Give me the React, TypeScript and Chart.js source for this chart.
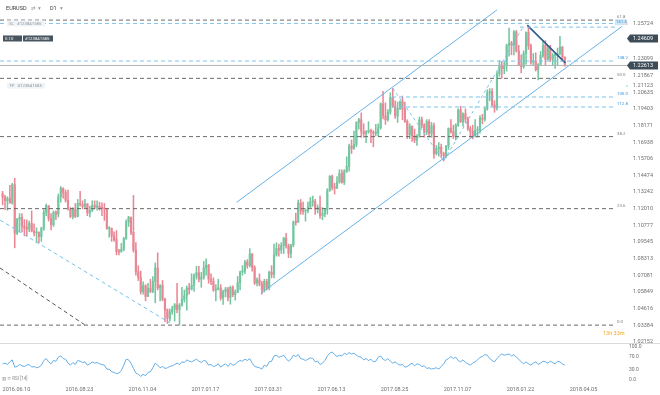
import React, { useEffect, useRef } from "react";
import { Chart, registerables } from "chart.js";

Chart.register(...registerables);

// ---------- data (2-day candles, EURUSD D1) ----------
const firstOpen = 1.1313;
const closes = [
  1.1287, 1.1260, 1.1277, 1.1245, 1.1380, 1.1020, 1.1124, 1.1137, 1.1073, 1.1056, 1.1052, 1.1092, 1.1035, 1.1022, 1.1025, 1.0995, 1.1057, 1.1174, 1.1224, 1.1128, 1.1083, 1.1176, 1.1161, 1.1290, 1.1353, 1.1321,
  1.1264, 1.1198, 1.1145, 1.1196, 1.1144, 1.1240, 1.1233, 1.1219, 1.1237, 1.1170, 1.1188, 1.1226, 1.1213, 1.1220, 1.1206, 1.1204, 1.1200, 1.1053, 1.1055, 1.1000, 1.0974, 1.0884, 1.0882, 1.0901, 1.0982, 1.1101,
  1.1139, 1.1027, 1.0895, 1.0734, 1.0692, 1.0588, 1.0631, 1.0552, 1.0613, 1.0588, 1.0664, 1.0763, 1.0615, 1.0634, 1.0531, 1.0453, 1.0390, 1.0438, 1.0458, 1.0490, 1.0456, 1.0488, 1.0531, 1.0556, 1.0614, 1.0606,
  1.0633, 1.0703, 1.0728, 1.0679, 1.0694, 1.0764, 1.0783, 1.0680, 1.0664, 1.0599, 1.0603, 1.0615, 1.0541, 1.0588, 1.0607, 1.0545, 1.0620, 1.0566, 1.0582, 1.0655, 1.0734, 1.0739, 1.0806, 1.0781, 1.0867, 1.0767,
  1.0652, 1.0676, 1.0644, 1.0601, 1.0664, 1.0617, 1.0731, 1.0715, 1.0860, 1.0907, 1.0896, 1.0930, 1.0983, 1.0926, 1.0871, 1.0934, 1.1104, 1.1101, 1.1244, 1.1184, 1.1183, 1.1186, 1.1214, 1.1253, 1.1254, 1.1197,
  1.1210, 1.1151, 1.1167, 1.1194, 1.1337, 1.1443, 1.1360, 1.1354, 1.1400, 1.1462, 1.1396, 1.1478, 1.1514, 1.1665, 1.1648, 1.1677, 1.1840, 1.1860, 1.1774, 1.1756, 1.1771, 1.1780, 1.1769, 1.1760, 1.1761,
  1.1800, 1.1977, 1.1888, 1.1860, 1.1915, 1.2024, 1.1963, 1.1887, 1.1944, 1.1994, 1.1940, 1.1848, 1.1747, 1.1814, 1.1741, 1.1709, 1.1736, 1.1859, 1.1821, 1.1766, 1.1846, 1.1757, 1.1815, 1.1608, 1.1646, 1.1656,
  1.1610, 1.1592, 1.1664, 1.1796, 1.1771, 1.1736, 1.1820, 1.1933, 1.1843, 1.1904, 1.1865, 1.1794, 1.1773, 1.1744, 1.1782, 1.1782, 1.1872, 1.1863, 1.1941, 1.2058, 1.2068, 1.1967, 1.1947, 1.2199, 1.2262, 1.2238,
  1.2260, 1.2408, 1.2427, 1.2414, 1.2511, 1.2369, 1.2265, 1.2252, 1.2350, 1.2505, 1.2407, 1.2285, 1.2294, 1.2230, 1.2268, 1.2335, 1.2411, 1.2307, 1.2390, 1.2307, 1.2337, 1.2340, 1.2351, 1.2399, 1.2323, 1.2261,
];
const highs = [
  1.1330, 1.1300, 1.1290, 1.1375, 1.1390, 1.1427, 1.1130, 1.1165, 1.1165, 1.1120, 1.1120, 1.1110, 1.1185, 1.1090, 1.1060, 1.1030, 1.1065, 1.1195, 1.1235, 1.1225, 1.1165, 1.1185, 1.1185, 1.1310, 1.1366, 1.1355,
  1.1340, 1.1340, 1.1210, 1.1210, 1.1240, 1.1270, 1.1330, 1.1260, 1.1270, 1.1240, 1.1220, 1.1260, 1.1260, 1.1260, 1.1250, 1.1245, 1.1240, 1.1200, 1.1070, 1.1060, 1.1030, 1.1040, 1.0900, 1.0945, 1.0990, 1.1120,
  1.1145, 1.1140, 1.1300, 1.0950, 1.0780, 1.0740, 1.0660, 1.0640, 1.0650, 1.0680, 1.0700, 1.0800, 1.0875, 1.0640, 1.0670, 1.0540, 1.0460, 1.0460, 1.0480, 1.0500, 1.0650, 1.0500, 1.0620, 1.0600, 1.0630, 1.0650,
  1.0720, 1.0720, 1.0775, 1.0775, 1.0730, 1.0811, 1.0830, 1.0790, 1.0720, 1.0690, 1.0640, 1.0680, 1.0640, 1.0600, 1.0620, 1.0620, 1.0630, 1.0630, 1.0600, 1.0700, 1.0740, 1.0780, 1.0820, 1.0825, 1.0906, 1.0870,
  1.0780, 1.0690, 1.0720, 1.0665, 1.0680, 1.0680, 1.0740, 1.0780, 1.0940, 1.0950, 1.0940, 1.0950, 1.0990, 1.1020, 1.0940, 1.0940, 1.1110, 1.1170, 1.1265, 1.1270, 1.1250, 1.1200, 1.1250, 1.1285, 1.1295, 1.1270,
  1.1230, 1.1295, 1.1210, 1.1200, 1.1350, 1.1445, 1.1450, 1.1390, 1.1440, 1.1490, 1.1490, 1.1490, 1.1585, 1.1680, 1.1710, 1.1775, 1.1845, 1.1870, 1.1910, 1.1830, 1.1780, 1.1845, 1.1790, 1.1780, 1.1825,
  1.1830, 1.1985, 1.2070, 1.1985, 1.1935, 1.2060, 1.2092, 1.2000, 1.1990, 1.2000, 1.2035, 1.1990, 1.1860, 1.1830, 1.1800, 1.1790, 1.1750, 1.1880, 1.1880, 1.1830, 1.1860, 1.1860, 1.1840, 1.1835, 1.1670, 1.1690,
  1.1680, 1.1620, 1.1670, 1.1800, 1.1860, 1.1820, 1.1830, 1.1940, 1.1960, 1.1910, 1.1940, 1.1880, 1.1810, 1.1820, 1.1860, 1.1810, 1.1890, 1.1900, 1.1950, 1.2081, 1.2090, 1.2090, 1.2000, 1.2215, 1.2295, 1.2290,
  1.2290, 1.2420, 1.2537, 1.2440, 1.2520, 1.2520, 1.2410, 1.2340, 1.2370, 1.2510, 1.2555, 1.2420, 1.2350, 1.2355, 1.2275, 1.2365, 1.2445, 1.2445, 1.2410, 1.2410, 1.2350, 1.2350, 1.2390, 1.2476, 1.2400, 1.2325,
];
const lows = [
  1.1230, 1.1195, 1.1190, 1.1240, 1.1235, 1.0912, 1.1010, 1.1030, 1.1030, 1.1000, 1.1000, 1.1030, 1.1030, 1.1000, 1.0950, 1.0950, 1.0960, 1.1040, 1.1150, 1.1110, 1.1045, 1.1070, 1.1120, 1.1140, 1.1250, 1.1280,
  1.1250, 1.1190, 1.1135, 1.1125, 1.1135, 1.1140, 1.1220, 1.1200, 1.1210, 1.1150, 1.1140, 1.1180, 1.1200, 1.1190, 1.1190, 1.1150, 1.1115, 1.1050, 1.0990, 1.0960, 1.0960, 1.0860, 1.0860, 1.0880, 1.0890, 1.0975,
  1.1070, 1.1010, 1.0880, 1.0710, 1.0670, 1.0570, 1.0570, 1.0520, 1.0550, 1.0580, 1.0580, 1.0505, 1.0600, 1.0520, 1.0520, 1.0365, 1.0352, 1.0370, 1.0420, 1.0370, 1.0430, 1.0340, 1.0480, 1.0510, 1.0450, 1.0570,
  1.0600, 1.0590, 1.0680, 1.0660, 1.0620, 1.0680, 1.0710, 1.0650, 1.0640, 1.0590, 1.0520, 1.0600, 1.0525, 1.0494, 1.0550, 1.0520, 1.0495, 1.0550, 1.0525, 1.0580, 1.0600, 1.0710, 1.0720, 1.0760, 1.0770, 1.0740,
  1.0640, 1.0630, 1.0630, 1.0570, 1.0585, 1.0600, 1.0600, 1.0690, 1.0690, 1.0850, 1.0850, 1.0870, 1.0870, 1.0910, 1.0840, 1.0840, 1.0920, 1.1080, 1.1100, 1.1160, 1.1160, 1.1110, 1.1170, 1.1210, 1.1220, 1.1160,
  1.1170, 1.1130, 1.1120, 1.1140, 1.1160, 1.1330, 1.1340, 1.1310, 1.1350, 1.1390, 1.1390, 1.1380, 1.1470, 1.1480, 1.1610, 1.1640, 1.1660, 1.1790, 1.1730, 1.1730, 1.1690, 1.1760, 1.1690, 1.1660, 1.1740,
  1.1740, 1.1790, 1.1865, 1.1825, 1.1850, 1.1900, 1.1950, 1.1870, 1.1840, 1.1935, 1.1860, 1.1840, 1.1720, 1.1720, 1.1700, 1.1690, 1.1670, 1.1730, 1.1800, 1.1730, 1.1750, 1.1730, 1.1730, 1.1574, 1.1600, 1.1590,
  1.1580, 1.1554, 1.1580, 1.1640, 1.1760, 1.1720, 1.1710, 1.1810, 1.1840, 1.1810, 1.1840, 1.1780, 1.1730, 1.1718, 1.1730, 1.1730, 1.1760, 1.1830, 1.1850, 1.1930, 1.2000, 1.1960, 1.1915, 1.1930, 1.2180, 1.2165,
  1.2200, 1.2220, 1.2330, 1.2340, 1.2340, 1.2360, 1.2260, 1.2206, 1.2240, 1.2270, 1.2380, 1.2270, 1.2260, 1.2220, 1.2155, 1.2270, 1.2320, 1.2260, 1.2300, 1.2290, 1.2260, 1.2240, 1.2260, 1.2340, 1.2290, 1.2255,
];
const rsi14 = [
  49, 51, 47, 55, 61, 39, 41, 47, 43, 41,
  45, 47, 39, 41, 37, 39, 45, 59, 65, 55,
  49, 59, 57, 69, 73, 65, 63, 51, 45, 53,
  47, 59, 57, 53, 55, 45, 49, 55, 51, 53,
  49, 47, 45, 33, 33, 25, 23, 19, 21, 29,
  45, 63, 61, 51, 35, 21, 17, 11, 17, 13,
  23, 25, 37, 51, 45, 37, 41, 35, 37, 41,
  43, 47, 51, 47, 55, 53, 61, 57, 55, 59,
  63, 57, 53, 59, 57, 45, 47, 41, 43, 49,
  39, 45, 49, 41, 51, 45, 47, 55, 59, 57,
  63, 59, 65, 51, 41, 39, 37, 33, 45, 41,
  55, 57, 73, 75, 69, 71, 75, 65, 57, 63,
  75, 71, 77, 65, 63, 59, 63, 67, 65, 55,
  57, 47, 51, 59, 73, 81, 85, 77, 71, 75,
  73, 81, 77, 83, 79, 81, 75, 71, 69, 61,
  65, 59, 63, 55, 57, 69, 73, 63, 59, 65,
  57, 51, 55, 49, 45, 47, 39, 41, 47, 51,
  43, 49, 47, 41, 43, 35, 37, 33, 35, 37,
  33, 41, 49, 61, 65, 71, 65, 69, 59, 55,
  61, 53, 49, 45, 51, 55, 61, 69, 71, 77,
  75, 65, 59, 55, 65, 73, 79, 75, 77, 79,
  73, 77, 69, 63, 55, 49, 55, 49, 45, 51,
  55, 47, 51, 57, 55, 51, 57, 53, 49, 57,
  55, 49, 45,
];
const dateLabels = ["2016.06.10", "2016.08.23", "2016.11.04", "2017.01.17", "2017.03.31", "2017.06.13", "2017.08.25", "2017.11.07", "2018.01.22", "2018.04.05"];
const dateLabelBars = [0, 26, 52, 78, 104, 130, 156, 182, 208, 234];
const priceAxisLabels = [1.02152, 1.03384, 1.04616, 1.05849, 1.07081, 1.08313, 1.09545, 1.10777, 1.1201, 1.13242, 1.14474, 1.15706, 1.16938, 1.18171, 1.19403, 1.20635, 1.21123, 1.21867, 1.23099, 1.25724];
const rsiAxisLabels = [0, 30, 70, 100];
const fibNames = ["61.8", "50.0", "38.2", "23.6", "0.0"];
const fibPrices = [1.2597, 1.2166, 1.1735, 1.1202, 1.034];
const extNames = ["161.8", "138.2", "100.0", "112.8"];
const extPrices = [1.2545, 1.2294, 1.2028, 1.1954];
const extFromBar = [213.5, -1.07, 160.7, 160.7];
const slPrice = 1.25724;
const entryPrice = 1.24609;
const tpPrice = 1.21123;
const lastPrice = 1.22613;
const orderId = "#123841585";
const lotSize = "0.10";
const channelUpper = [{ x: 96.6, y: 1.1249 }, { x: 204.0, y: 1.2672 }];
const channelLower = [{ x: 106.6, y: 1.0576 }, { x: 255.6, y: 1.255 }];
const trendFromHigh = [{ x: 216.5, y: 1.256 }, { x: 232.2, y: 1.228 }];
const extLegs = [{ x: 161, y: 1.2092 }, { x: 182, y: 1.1554 }, { x: 214.8, y: 1.2546 }];
const oldTrendBlue = [{ x: -1.07, y: 1.1118 }, { x: 69.1, y: 1.0356 }];
const oldTrendGray = [{ x: -1.07, y: 1.0763 }, { x: 34.0, y: 1.0341 }];

// ---------- view settings ----------
const X_MIN = -1.07;
const X_MAX = 249;
const LEVEL_END = 252.7;
const PRICE_LINE_END = 258.9;
const P_MIN = 1.02004;
const P_MAX = 1.26717;
const R_MIN = -6.06;
const R_MAX = 106.06;
const UP = "#74c6a0";
const DOWN = "#ea8795";
const FIB = "#6a6a6a";
const EXT = "#7cc2ea";
const CH = "#66b2e6";
const NAVY = "#2f5d8a";
const FONT = "Roboto, 'DejaVu Sans', sans-serif";

const lineDs = (data: any[], color: string, dash: number[], width = 1) => ({
  type: "line" as const,
  data,
  borderColor: color,
  borderWidth: width,
  borderDash: dash,
  pointRadius: 0,
  fill: false,
  tension: 0,
  clip: false as any,
  order: 0,
});

const fitVertical = (s: any) => {
  s.width = 54;
  s.paddingTop = 0;
  s.paddingBottom = 0;
};

function tag(ctx: CanvasRenderingContext2D, x: number, y: number, w: number, bg: string, fg: string, text: string) {
  ctx.fillStyle = bg;
  ctx.fillRect(x, y - 3, w, 6);
  ctx.fillStyle = fg;
  ctx.fillText(text, x + 2, y + 0.3);
}

const overlayPrice = {
  id: "overlayPrice",
  afterDraw(chart: any) {
    const ctx: CanvasRenderingContext2D = chart.ctx;
    const ys = chart.scales.y;
    const py = (p: number) => ys.getPixelForValue(p);
    ctx.save();
    ctx.textBaseline = "middle";
    ctx.textAlign = "left";
    ctx.font = `5.5px ${FONT}`;
    ctx.fillStyle = "#3a3a3a";
    ctx.fillText("EURUSD", 6, 9);
    ctx.fillStyle = "#999";
    ctx.fillText("⇄", 31, 9);
    ctx.fillText("▾", 38, 9);
    ctx.fillStyle = "#3a3a3a";
    ctx.fillText("D1", 50, 9);
    ctx.fillStyle = "#999";
    ctx.fillText("▾", 60, 9);
    ctx.font = `4.3px ${FONT}`;
    tag(ctx, 7, py(slPrice), 38, "#f1f4f6", "#8b98a5", "SL   " + orderId);
    tag(ctx, 3, py(entryPrice), 19, "#46555f", "#ffffff", lotSize);
    tag(ctx, 23, py(entryPrice), 30, "#46555f", "#ffffff", orderId);
    tag(ctx, 7, py(tpPrice), 38, "#f1f4f6", "#8b98a5", "TP   " + orderId);
    ctx.fillStyle = "#7a7a7a";
    fibPrices.forEach((p, i) => ctx.fillText(fibNames[i], 617, py(p) - 3));
    ctx.fillStyle = "#cde7f7";
    ctx.fillRect(615, py(extPrices[0]) - 8, 11, 6);
    ctx.fillStyle = "#3d93d4";
    ctx.fillText(extNames[0], 616, py(extPrices[0]) - 5);
    for (let i = 1; i < extPrices.length; i++) ctx.fillText(extNames[i], 617, py(extPrices[i]) - 3);
    ctx.font = `6px ${FONT}`;
    ctx.fillStyle = "#e0505a";
    ctx.fillText("‹", 626, py(slPrice));
    ctx.fillStyle = "#3cb371";
    ctx.fillText("‹", 626, py(tpPrice));
    ctx.font = `5.5px ${FONT}`;
    [entryPrice, lastPrice].forEach((p) => {
      const y = py(p);
      ctx.fillStyle = "#3e4c58";
      ctx.beginPath();
      ctx.moveTo(627, y);
      ctx.lineTo(630, y - 4);
      ctx.lineTo(658, y - 4);
      ctx.lineTo(658, y + 4);
      ctx.lineTo(630, y + 4);
      ctx.closePath();
      ctx.fill();
      ctx.fillStyle = "#ffffff";
      ctx.fillText(p.toFixed(5), 633, y + 0.3);
    });
    ctx.fillStyle = "#f5a623";
    ctx.fillText("13h 33m", 603, 334);
    ctx.fillStyle = "#dadada";
    ctx.fillRect(0, 343, 660, 1);
    ctx.restore();
  },
};

const overlayRsi = {
  id: "overlayRsi",
  afterDraw(chart: any) {
    const ctx: CanvasRenderingContext2D = chart.ctx;
    ctx.save();
    ctx.textBaseline = "middle";
    ctx.font = `4.5px ${FONT}`;
    ctx.fillStyle = "#8a8a8a";
    ctx.fillText("▥ ≡ RSI [14]", 2, 35);
    ctx.restore();
  },
};

export default function App() {
  const priceRef = useRef<HTMLCanvasElement>(null);
  const rsiRef = useRef<HTMLCanvasElement>(null);

  useEffect(() => {
    const opens = closes.map((c, i) => (i === 0 ? firstOpen : closes[i - 1]));
    const colors = closes.map((c, i) => (c >= opens[i] ? UP : DOWN));
    const wicks = closes.map((c, i) => ({ x: i, y: [lows[i], highs[i]] }));
    const bodies = closes.map((c, i) => ({ x: i, y: [opens[i], c] }));

    const priceChart = new Chart(priceRef.current as HTMLCanvasElement, {
      type: "bar",
      data: {
        datasets: [
          ...fibPrices.map((p) => lineDs([{ x: X_MIN, y: p }, { x: LEVEL_END, y: p }], FIB, [4, 3])),
          lineDs([{ x: X_MIN, y: slPrice }, { x: LEVEL_END, y: slPrice }], EXT, [4, 3]),
          ...extPrices.map((p, i) => lineDs([{ x: extFromBar[i], y: p }, { x: LEVEL_END, y: p }], EXT, [4, 3])),
          lineDs([{ x: X_MIN, y: lastPrice }, { x: PRICE_LINE_END, y: lastPrice }], "#b4b4b4", []),
          lineDs(channelUpper, CH, []),
          lineDs(channelLower, CH, []),
          lineDs(trendFromHigh, NAVY, [], 1.6),
          lineDs(extLegs, EXT, [3, 3]),
          lineDs(oldTrendBlue, EXT, [4, 3]),
          lineDs(oldTrendGray, "#555555", [4, 3]),
          { type: "bar", data: wicks as any, backgroundColor: colors, barThickness: 0.9, grouped: false, order: 2 } as any,
          { type: "bar", data: bodies as any, backgroundColor: colors, barThickness: 1.5, minBarLength: 1, grouped: false, order: 1 } as any,
        ] as any,
      },
      options: {
        animation: false,
        responsive: false,
        maintainAspectRatio: false,
        events: [],
        layout: { padding: { top: 10, left: 0, right: 0, bottom: 0 } },
        plugins: { legend: { display: false }, tooltip: { enabled: false } },
        scales: {
          x: { type: "linear", min: X_MIN, max: X_MAX, offset: false, display: false },
          y: {
            type: "linear",
            position: "right",
            min: P_MIN,
            max: P_MAX,
            beginAtZero: false,
            grid: { display: false, drawTicks: false },
            border: { display: false },
            afterFit: fitVertical,
            afterBuildTicks: (s: any) => {
              s.ticks = priceAxisLabels.map((v) => ({ value: v }));
            },
            ticks: {
              autoSkip: false,
              padding: 27,
              color: "#6e6e6e",
              font: { family: FONT, size: 5.5 },
              callback: (v: any) => Number(v).toFixed(5),
            },
          },
        },
      } as any,
      plugins: [overlayPrice],
    });

    const rsiChart = new Chart(rsiRef.current as HTMLCanvasElement, {
      type: "line",
      data: {
        datasets: [
          {
            data: rsi14.map((v, i) => ({ x: i, y: v })),
            borderColor: "#64aee8",
            borderWidth: 1,
            pointRadius: 0,
            fill: false,
            tension: 0,
          },
        ],
      },
      options: {
        animation: false,
        responsive: false,
        maintainAspectRatio: false,
        events: [],
        layout: { padding: { top: 1, left: 0, right: 0, bottom: 0 } },
        plugins: { legend: { display: false }, tooltip: { enabled: false } },
        scales: {
          x: {
            type: "linear",
            min: X_MIN,
            max: X_MAX,
            offset: false,
            grid: { display: false, drawTicks: false },
            border: { display: false },
            afterFit: (s: any) => {
              s.height = 13;
              s.paddingLeft = 0;
              s.paddingRight = 0;
            },
            afterBuildTicks: (s: any) => {
              s.ticks = dateLabelBars.map((v) => ({ value: v }));
            },
            ticks: {
              autoSkip: false,
              maxRotation: 0,
              minRotation: 0,
              align: "start",
              padding: 4,
              color: "#6e6e6e",
              font: { family: FONT, size: 5.5 },
              callback: (v: any, i: number) => dateLabels[i],
            },
          },
          y: {
            type: "linear",
            position: "right",
            min: R_MIN,
            max: R_MAX,
            grid: { display: false, drawTicks: false },
            border: { display: false },
            afterFit: fitVertical,
            afterBuildTicks: (s: any) => {
              s.ticks = rsiAxisLabels.map((v) => ({ value: v }));
            },
            ticks: {
              autoSkip: false,
              padding: 23,
              color: "#6e6e6e",
              font: { family: FONT, size: 5 },
              callback: (v: any) => Number(v).toFixed(1),
            },
          },
        },
      } as any,
      plugins: [overlayRsi],
    });

    return () => {
      priceChart.destroy();
      rsiChart.destroy();
    };
  }, []);

  return (
    <div style={{ position: "absolute", left: 0, top: 0, width: 660, height: 395, background: "#ffffff" }}>
      <canvas ref={priceRef} width={660} height={344} style={{ display: "block", width: 660, height: 344 }} />
      <canvas ref={rsiRef} width={660} height={51} style={{ display: "block", width: 660, height: 51 }} />
    </div>
  );
}
